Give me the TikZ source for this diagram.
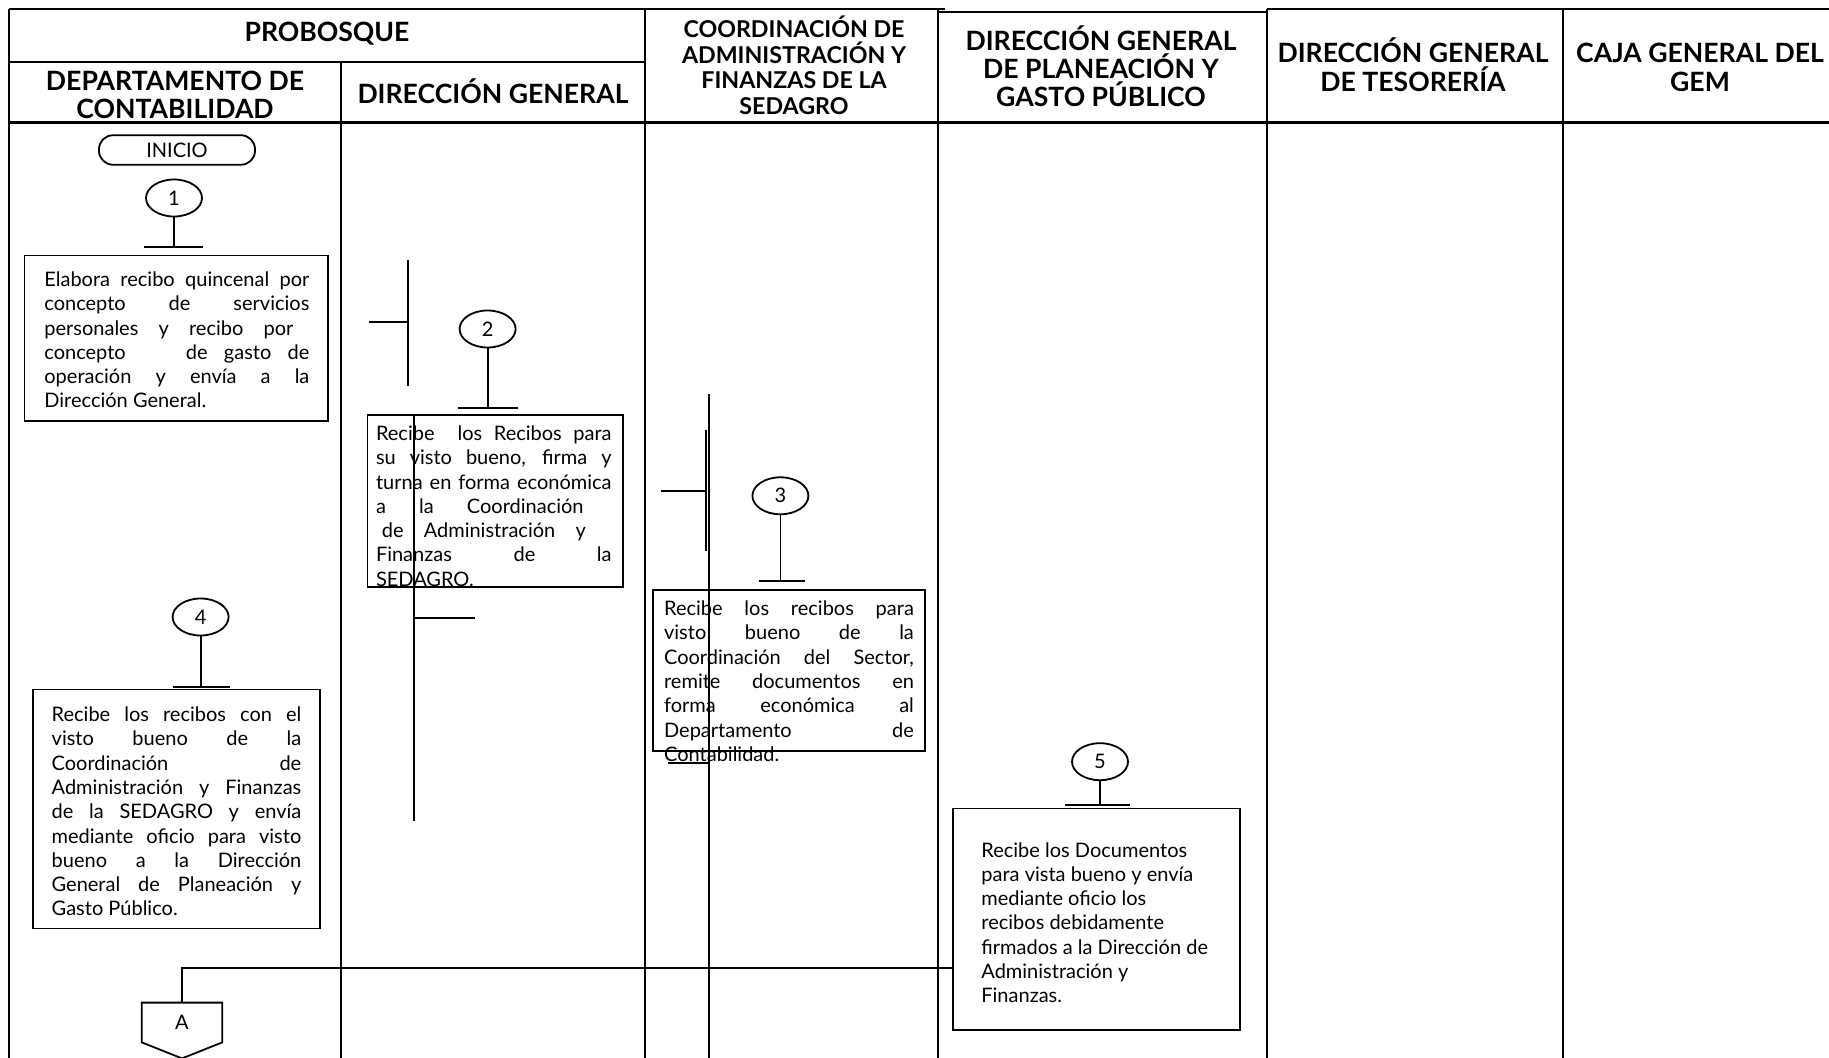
\documentclass[tikz,border=0pt]{standalone}
\usepackage{fontspec}
\setmainfont{Lato}
\usetikzlibrary{shapes.geometric}
\newcommand\bodyf{\fontsize{10}{12.15}\selectfont}
\newcommand\hdrf{\fontsize{13.3}{14}\selectfont\bfseries}
\newcommand\hdrs{\fontsize{11.6}{12.8}\selectfont\bfseries}
\newcommand\JL[2]{\hbox{\makebox[#1][s]{#2}}}
\newcommand\NL[1]{\hbox{#1}}
\newcommand\CL[1]{\hbox to 0pt{\hss#1\hss}}
\begin{document}
\begin{tikzpicture}[x=0.5pt,y=-0.5pt,
  tbl/.style={line width=1.1pt},
  flow/.style={line width=0.9pt},
  box/.style={draw, line width=0.9pt, inner sep=0pt},
  circ/.style={ellipse, draw, line width=0.9pt, minimum width=28pt, minimum height=18.5pt, inner sep=0pt, font=\bodyf},
  txt/.style={anchor=base west, inner sep=0pt},
  hdr/.style={anchor=base, inner sep=0pt}]
\useasboundingbox (0,0) rectangle (1829,1058);
% ---------- table ----------
\draw[tbl] (9,9) -- (945,9);
\draw[tbl] (938,12) -- (1267,12);
\draw[tbl] (1267,9) -- (1829,9);
\draw[tbl] (9,62) -- (645,62);
\draw[tbl] (9,122.5) -- (1829,122.5);
\draw[tbl] (9,9) -- (9,1058);
\draw[tbl] (340.6,62) -- (340.6,1058);
\draw[tbl] (645,9) -- (645,1058);
\draw[tbl] (938,9) -- (938,1058);
\draw[tbl] (1267,9) -- (1267,1058);
\draw[tbl] (1563,9) -- (1563,1058);
% ---------- headers ----------
\node[hdr] (hProb) at (327,42) {\vtop{\hdrf\CL{PROBOSQUE}}};
\node[hdr] (hDept) at (175,91) {\vtop{\hdrf\baselineskip=14pt\CL{DEPARTAMENTO DE}\CL{CONTABILIDAD}}};
\node[hdr] (hDir) at (493,103.5) {\vtop{\hdrf\CL{DIRECCIÓN GENERAL}}};
\node[hdr] (hCoord) at (794,37.5) {\vtop{\hdrs\baselineskip=12.8pt\CL{COORDINACIÓN DE}\CL{ADMINISTRACIÓN Y}\CL{FINANZAS DE LA}\CL{SEDAGRO}}};
\node[hdr] (hPlan) at (1101,50.5) {\vtop{\hdrf\baselineskip=14pt\CL{DIRECCIÓN GENERAL}\CL{DE PLANEACIÓN Y}\CL{GASTO PÚBLICO}}};
\node[hdr] (hTes) at (1413,62.5) {\vtop{\hdrf\baselineskip=14.6pt\CL{DIRECCIÓN GENERAL}\CL{DE TESORERÍA}}};
\node[hdr] (hCaja) at (1700,62.5) {\vtop{\hdrf\baselineskip=14.6pt\CL{CAJA GENERAL DEL}\CL{GEM}}};
% ---------- column 1 ----------
\node[draw, line width=0.9pt, rounded corners=7pt, minimum width=78pt, minimum height=14.75pt, inner sep=0pt, font=\bodyf] (inicio) at (177,150) {INICIO};
\node[circ] (c1) at (174,198) {1};
\coordinate (b1) at (174,247);
\draw[flow] (c1.south) -- (b1);
\draw[flow] ([xshift=-15pt]b1) -- ([xshift=14.5pt]b1);
\node[box, minimum width=151.75pt, minimum height=82.75pt] (box1) at (176.25,338.25) {};
\node[txt] (t1) at (44,286.5) {\vtop{\bodyf
  \JL{132.5pt}{Elabora recibo quincenal por}
  \JL{132.5pt}{concepto de servicios}
  \JL{124.5pt}{personales y recibo por}
  \JL{132.5pt}{concepto\hspace{2.2em} de gasto de}
  \JL{132.5pt}{operación y envía a la}
  \NL{Dirección General.}}};
\node[circ] (c4) at (200.6,617) {4};
\coordinate (b4) at (200.6,687);
\draw[flow] (c4.south) -- (b4);
\draw[flow] ([xshift=-14pt]b4) -- ([xshift=14.5pt]b4);
\node[box, minimum width=143.45pt, minimum height=119.55pt] (box4) at (176.15,808.95) {};
\node[txt] (t4) at (51.3,721.5) {\vtop{\bodyf
  \JL{124.8pt}{Recibe los recibos con el}
  \JL{124.8pt}{visto bueno de la}
  \JL{124.8pt}{Coordinación de}
  \JL{124.8pt}{Administración y Finanzas}
  \JL{124.8pt}{de la SEDAGRO y envía}
  \JL{124.8pt}{mediante oficio para visto}
  \JL{124.8pt}{bueno a la Dirección}
  \JL{124.8pt}{General de Planeación y}
  \NL{Gasto Público.}}};
\node[minimum width=39.8pt, minimum height=19.5pt, inner sep=0pt, font=\bodyf] (A) at (182,1022.5) {A};
\draw[flow] (A.north west) -- (A.north east) -- (A.south east) -- ([yshift=-8pt]A.south) -- (A.south west) -- cycle;
% ---------- column 2 ----------
\coordinate (m2top) at (408,260);
\coordinate (m2bot) at (408,386);
\coordinate (m2in) at (368.6,322);
\draw[flow] (m2top) -- (m2bot);
\draw[flow] (m2in) -- (m2in -| m2top);
\node[circ] (c2) at (487.6,329) {2};
\coordinate (b2) at (487.6,408);
\draw[flow] (c2.south) -- (b2);
\draw[flow] ([xshift=-15pt]b2) -- ([xshift=15pt]b2);
\node[box, minimum width=127.75pt, minimum height=86pt] (box2) at (495.25,501) {};
\node[txt] (t2) at (375.6,440.5) {\vtop{\bodyf
  \JL{117.8pt}{Recibe\ \ los Recibos para}
  \JL{117.8pt}{su visto bueno, firma y}
  \JL{117.8pt}{turna en forma económica}
  \JL{103.8pt}{a la Coordinación}
  \hbox{\kern2.9pt\makebox[102pt][s]{de Administración y}}
  \JL{117.8pt}{Finanzas de la}
  \NL{SEDAGRO.}}};
\coordinate (v2a) at (414,415);
\coordinate (v2b) at (414,821);
\coordinate (h2) at (475,618);
\draw[flow] (v2a) -- (v2b);
\draw[flow] (v2a |- h2) -- (h2);
% ---------- column 3 ----------
\coordinate (m3top) at (705.7,430);
\coordinate (m3bot) at (705.7,550.6);
\coordinate (m3in) at (661,491);
\draw[flow] (m3top) -- (m3bot);
\draw[flow] (m3in) -- (m3in -| m3top);
\node[circ] (c3) at (780.4,495.8) {3};
\coordinate (b3) at (780.4,581);
\draw[flow] (c3.south) -- (b3);
\draw[flow] ([xshift=-10.5pt]b3) -- ([xshift=12.3pt]b3);
\node[box, minimum width=136pt, minimum height=80.5pt] (box3) at (789,670.5) {};
\node[txt] (t3) at (663.7,615.5) {\vtop{\bodyf
  \JL{124.9pt}{Recibe los recibos para}
  \JL{124.9pt}{visto bueno de la}
  \JL{124.9pt}{Coordinación del Sector,}
  \JL{124.9pt}{remite documentos en}
  \JL{124.9pt}{forma económica al}
  \JL{124.9pt}{Departamento de}
  \NL{Contabilidad.}}};
\coordinate (v3a) at (709,394);
\coordinate (v3b) at (709,1058);
\coordinate (h3) at (668,763);
\draw[flow] (v3a) -- (v3b);
\draw[flow] (h3) -- (h3 -| v3a);
% ---------- column 4 ----------
\node[circ] (c5) at (1100,761.7) {5};
\coordinate (b5) at (1100,805);
\draw[flow] (c5.south) -- (b5);
\draw[flow] ([xshift=-17.5pt]b5) -- ([xshift=15pt]b5);
\node[box, minimum width=143.5pt, minimum height=110.8pt] (box5) at (1096.5,919.2) {};
\node[txt] (t5) at (981,857) {\vtop{\bodyf
  \NL{Recibe los Documentos}
  \NL{para vista bueno y envía}
  \NL{mediante oficio los}
  \NL{recibos debidamente}
  \NL{firmados a la Dirección de}
  \NL{Administración y}
  \NL{Finanzas.}}};
% ---------- connector to A ----------
\coordinate (j) at (182,968);
\draw[flow] (box5.west |- j) -- (j) -- (A.north);
\end{tikzpicture}
\end{document}
